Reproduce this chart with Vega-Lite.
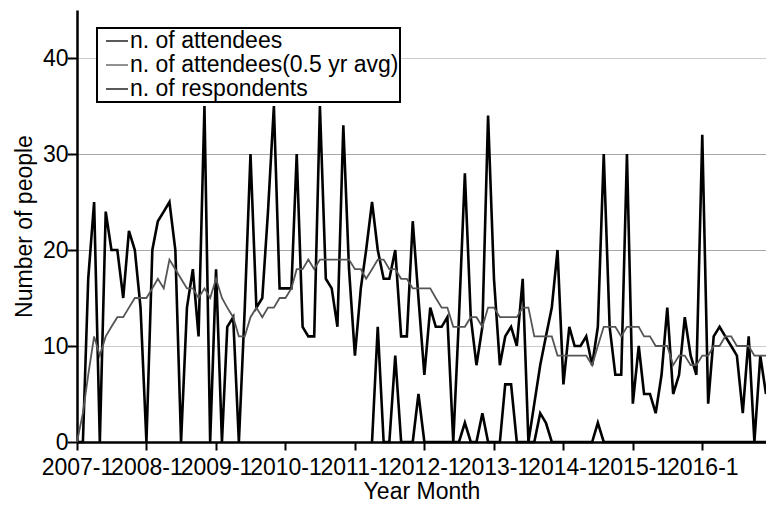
{
  "$schema": "https://vega.github.io/schema/vega-lite/v6.json",
  "width": 689,
  "height": 432,
  "autosize": {"type": "none"},
  "padding": {"left": 77, "top": 10, "right": 0, "bottom": 65},
  "background": "white",
  "config": {"view": {"stroke": null}, "font": "Liberation Sans", "legend": {"strokeWidth": 2}},
  "data": {
    "format": {"parse": {"month": "utc:'%Y-%m'"}},
    "values": [
      {"month":"2007-01","attendees":0,"avg":0},
      {"month":"2007-02","attendees":0,"avg":3},
      {"month":"2007-03","attendees":17,"avg":7},
      {"month":"2007-04","attendees":25,"avg":11},
      {"month":"2007-05","attendees":0,"avg":9},
      {"month":"2007-06","attendees":24,"avg":11},
      {"month":"2007-07","attendees":20,"avg":12},
      {"month":"2007-08","attendees":20,"avg":13},
      {"month":"2007-09","attendees":15,"avg":13},
      {"month":"2007-10","attendees":22,"avg":14},
      {"month":"2007-11","attendees":20,"avg":15},
      {"month":"2007-12","attendees":14,"avg":15},
      {"month":"2008-01","attendees":0,"avg":15},
      {"month":"2008-02","attendees":20,"avg":16},
      {"month":"2008-03","attendees":23,"avg":17},
      {"month":"2008-04","attendees":24,"avg":16},
      {"month":"2008-05","attendees":25,"avg":19},
      {"month":"2008-06","attendees":20,"avg":18},
      {"month":"2008-07","attendees":0,"avg":17},
      {"month":"2008-08","attendees":14,"avg":16},
      {"month":"2008-09","attendees":18,"avg":16},
      {"month":"2008-10","attendees":11,"avg":15},
      {"month":"2008-11","attendees":35,"avg":16},
      {"month":"2008-12","attendees":0,"avg":15},
      {"month":"2009-01","attendees":18,"avg":17},
      {"month":"2009-02","attendees":0,"avg":15},
      {"month":"2009-03","attendees":12,"avg":14},
      {"month":"2009-04","attendees":13,"avg":13},
      {"month":"2009-05","attendees":0,"avg":11},
      {"month":"2009-06","attendees":14,"avg":11},
      {"month":"2009-07","attendees":30,"avg":13},
      {"month":"2009-08","attendees":14,"avg":14},
      {"month":"2009-09","attendees":15,"avg":13},
      {"month":"2009-10","attendees":24,"avg":14},
      {"month":"2009-11","attendees":35,"avg":14},
      {"month":"2009-12","attendees":16,"avg":15},
      {"month":"2010-01","attendees":16,"avg":15},
      {"month":"2010-02","attendees":16,"avg":16},
      {"month":"2010-03","attendees":30,"avg":18},
      {"month":"2010-04","attendees":12,"avg":18},
      {"month":"2010-05","attendees":11,"avg":19},
      {"month":"2010-06","attendees":11,"avg":18},
      {"month":"2010-07","attendees":35,"avg":19},
      {"month":"2010-08","attendees":17,"avg":19},
      {"month":"2010-09","attendees":16,"avg":19},
      {"month":"2010-10","attendees":12,"avg":19},
      {"month":"2010-11","attendees":33,"avg":19},
      {"month":"2010-12","attendees":18,"avg":19},
      {"month":"2011-01","attendees":9,"avg":18},
      {"month":"2011-02","attendees":16,"avg":18},
      {"month":"2011-03","attendees":20,"avg":17},
      {"month":"2011-04","attendees":25,"avg":18,"respondents":0},
      {"month":"2011-05","attendees":20,"avg":19,"respondents":12},
      {"month":"2011-06","attendees":17,"avg":19,"respondents":0},
      {"month":"2011-07","attendees":17,"avg":18,"respondents":0},
      {"month":"2011-08","attendees":20,"avg":18,"respondents":9},
      {"month":"2011-09","attendees":11,"avg":17,"respondents":0},
      {"month":"2011-10","attendees":11,"avg":17,"respondents":0},
      {"month":"2011-11","attendees":23,"avg":16,"respondents":0},
      {"month":"2011-12","attendees":15,"avg":16,"respondents":5},
      {"month":"2012-01","attendees":7,"avg":16,"respondents":0},
      {"month":"2012-02","attendees":14,"avg":16,"respondents":0},
      {"month":"2012-03","attendees":12,"avg":15,"respondents":0},
      {"month":"2012-04","attendees":12,"avg":14,"respondents":0},
      {"month":"2012-05","attendees":13,"avg":14,"respondents":0},
      {"month":"2012-06","attendees":0,"avg":12,"respondents":0},
      {"month":"2012-07","attendees":13,"avg":12,"respondents":0},
      {"month":"2012-08","attendees":28,"avg":12,"respondents":2},
      {"month":"2012-09","attendees":13,"avg":13,"respondents":0},
      {"month":"2012-10","attendees":8,"avg":13,"respondents":0},
      {"month":"2012-11","attendees":12,"avg":12,"respondents":3},
      {"month":"2012-12","attendees":34,"avg":14,"respondents":0},
      {"month":"2013-01","attendees":17,"avg":14,"respondents":0},
      {"month":"2013-02","attendees":8,"avg":13,"respondents":0},
      {"month":"2013-03","attendees":11,"avg":13,"respondents":6},
      {"month":"2013-04","attendees":12,"avg":13,"respondents":6},
      {"month":"2013-05","attendees":10,"avg":13,"respondents":0},
      {"month":"2013-06","attendees":17,"avg":14,"respondents":0},
      {"month":"2013-07","attendees":0,"avg":14,"respondents":0},
      {"month":"2013-08","attendees":4,"avg":11,"respondents":0},
      {"month":"2013-09","attendees":8,"avg":11,"respondents":3},
      {"month":"2013-10","attendees":11,"avg":11,"respondents":2},
      {"month":"2013-11","attendees":14,"avg":11,"respondents":0},
      {"month":"2013-12","attendees":20,"avg":9,"respondents":0},
      {"month":"2014-01","attendees":6,"avg":9,"respondents":0},
      {"month":"2014-02","attendees":12,"avg":9,"respondents":0},
      {"month":"2014-03","attendees":10,"avg":9,"respondents":0},
      {"month":"2014-04","attendees":10,"avg":9,"respondents":0},
      {"month":"2014-05","attendees":11,"avg":9,"respondents":0},
      {"month":"2014-06","attendees":8,"avg":8,"respondents":0},
      {"month":"2014-07","attendees":12,"avg":10,"respondents":2},
      {"month":"2014-08","attendees":30,"avg":12,"respondents":0},
      {"month":"2014-09","attendees":12,"avg":12,"respondents":0},
      {"month":"2014-10","attendees":7,"avg":12,"respondents":0},
      {"month":"2014-11","attendees":7,"avg":11,"respondents":0},
      {"month":"2014-12","attendees":30,"avg":12,"respondents":0},
      {"month":"2015-01","attendees":4,"avg":12,"respondents":0},
      {"month":"2015-02","attendees":10,"avg":12,"respondents":0},
      {"month":"2015-03","attendees":5,"avg":11,"respondents":0},
      {"month":"2015-04","attendees":5,"avg":11,"respondents":0},
      {"month":"2015-05","attendees":3,"avg":10,"respondents":0},
      {"month":"2015-06","attendees":7,"avg":10,"respondents":0},
      {"month":"2015-07","attendees":14,"avg":10,"respondents":0},
      {"month":"2015-08","attendees":5,"avg":8,"respondents":0},
      {"month":"2015-09","attendees":7,"avg":9,"respondents":0},
      {"month":"2015-10","attendees":13,"avg":9,"respondents":0},
      {"month":"2015-11","attendees":9,"avg":8,"respondents":0},
      {"month":"2015-12","attendees":7,"avg":8,"respondents":0},
      {"month":"2016-01","attendees":32,"avg":9,"respondents":0},
      {"month":"2016-02","attendees":4,"avg":9,"respondents":0},
      {"month":"2016-03","attendees":11,"avg":10,"respondents":0},
      {"month":"2016-04","attendees":12,"avg":10,"respondents":0},
      {"month":"2016-05","attendees":11,"avg":11,"respondents":0},
      {"month":"2016-06","attendees":10,"avg":11,"respondents":0},
      {"month":"2016-07","attendees":9,"avg":10,"respondents":0},
      {"month":"2016-08","attendees":3,"avg":10,"respondents":0},
      {"month":"2016-09","attendees":11,"avg":10,"respondents":0},
      {"month":"2016-10","attendees":0,"avg":9,"respondents":0},
      {"month":"2016-11","attendees":9,"avg":9,"respondents":0},
      {"month":"2016-12","attendees":5,"avg":9,"respondents":0}
    ]
  },
  "transform": [{"fold": ["attendees", "avg", "respondents"], "as": ["series", "value"]}],
  "mark": {"type": "line", "strokeJoin": "miter"},
  "encoding": {
    "x": {
      "field": "month",
      "type": "temporal",
      "scale": {
        "type": "utc",
        "nice": false,
        "domain": [{"year": 2007, "month": 1, "date": 1, "utc": true}, {"year": 2016, "month": 12, "date": 1, "utc": true}]
      },
      "axis": {
        "title": "Year Month",
        "labelExpr": "utcFormat(datum.value, '%Y-%-m')",
        "values": [
          {"year": 2007, "month": 1, "date": 1, "utc": true},
          {"year": 2008, "month": 1, "date": 1, "utc": true},
          {"year": 2009, "month": 1, "date": 1, "utc": true},
          {"year": 2010, "month": 1, "date": 1, "utc": true},
          {"year": 2011, "month": 1, "date": 1, "utc": true},
          {"year": 2012, "month": 1, "date": 1, "utc": true},
          {"year": 2013, "month": 1, "date": 1, "utc": true},
          {"year": 2014, "month": 1, "date": 1, "utc": true},
          {"year": 2015, "month": 1, "date": 1, "utc": true},
          {"year": 2016, "month": 1, "date": 1, "utc": true}
        ],
        "grid": false,
        "labelOverlap": false,
        "labelFlush": false,
        "labelFontSize": 23,
        "labelColor": "black",
        "labelPadding": 6,
        "labelBaseline": "top",
        "labelLimit": 200,
        "tickColor": "black",
        "tickWidth": 2,
        "tickSize": 8,
        "domainColor": "black",
        "domainWidth": 2.5,
        "titleFontSize": 23,
        "titleFontWeight": "normal",
        "titleColor": "black",
        "titleBaseline": "top",
        "titleY": 38
      }
    },
    "y": {
      "field": "value",
      "type": "quantitative",
      "scale": {"domain": [0, 45], "nice": false},
      "axis": {
        "title": "Number of people",
        "values": [0, 10, 20, 30, 40],
        "grid": true,
        "gridColor": {"condition": {"test": "datum.value === 20 || datum.value === 30", "value": "#a8a8a8"}, "value": "#cccccc"},
        "gridWidth": 1,
        "labelFontSize": 23,
        "labelColor": "black",
        "labelPadding": -1,
        "tickColor": "black",
        "tickWidth": 2,
        "tickSize": 10,
        "domainColor": "black",
        "domainWidth": 2.5,
        "titleFontSize": 23,
        "titleFontWeight": "normal",
        "titleColor": "black",
        "titleAngle": 270,
        "titleAlign": "center",
        "titleBaseline": "alphabetic",
        "titleX": -46,
        "titleY": 216
      }
    },
    "color": {
      "field": "series",
      "type": "nominal",
      "scale": {"domain": ["attendees", "avg", "respondents"], "range": ["#000000", "#555555", "#000000"]},
      "legend": {
        "title": null,
        "orient": "none",
        "legendX": 20,
        "legendY": 18,
        "symbolType": "stroke",
        "symbolSize": 484,
        "symbolStrokeWidth": 1.3,
        "symbolOffset": 7,
        "labelOffset": 1,
        "labelFontSize": 23,
        "labelColor": "black",
        "labelLimit": 400,
        "rowPadding": 0,
        "padding": 1,
        "strokeColor": "black",
        "fillColor": "white",
        "labelExpr": "datum.value == 'attendees' ? 'n. of attendees' : datum.value == 'avg' ? 'n. of attendees(0.5 yr avg)' : 'n. of respondents'"
      }
    },
    "strokeWidth": {
      "condition": {"test": "datum.series === 'avg'", "value": 1.8},
      "value": 2.6
    }
  }
}
